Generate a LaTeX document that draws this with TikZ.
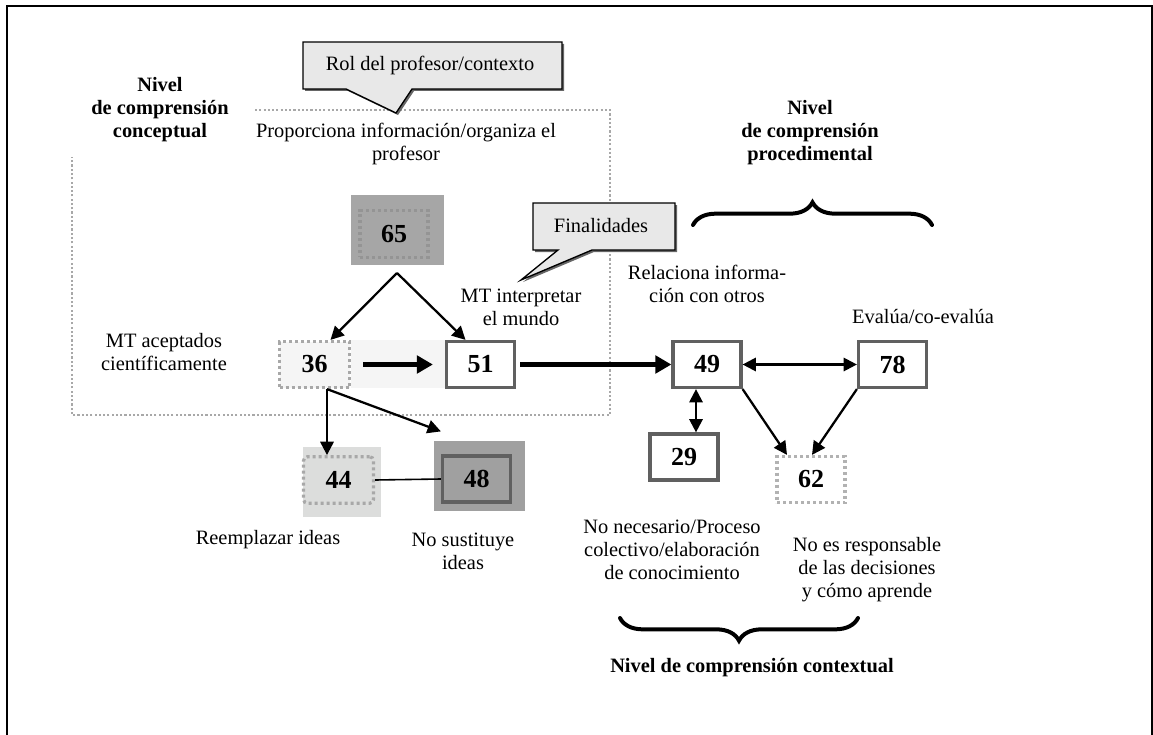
\documentclass[tikz,border=0pt]{standalone}
\usepackage{fontspec}
\setmainfont{Liberation Serif}
\usetikzlibrary{arrows.meta,decorations.pathreplacing,shadows}
\definecolor{boxline}{HTML}{606060}
\definecolor{dotline}{HTML}{A8A8A8}
\definecolor{calloutfill}{HTML}{E8E8E8}
\definecolor{fillsixtyfive}{HTML}{A6A6A6}
\definecolor{fillfortyfour}{HTML}{DCDDDC}
\definecolor{fillfortyeight}{HTML}{A0A0A0}
\definecolor{bandfill}{HTML}{F5F5F5}
\tikzset{
  every node/.style={
    font=\fontsize{15.3pt}{17.25pt}\selectfont, inner sep=0pt, align=center
  },
  level text/.style={font=\fontsize{15.3pt}{17.25pt}\selectfont\bfseries},
  num box/.style={
    draw=boxline, line width=2.4pt, fill=white,
    minimum width=51pt, minimum height=34.5pt,
    font=\fontsize{19.5pt}{20pt}\selectfont\bfseries
  },
  dot box/.style={num box, draw=dotline, dash pattern=on 2.25pt off 2.25pt},
  thin arrow/.style={line width=1.7pt, -{Triangle[length=10pt,width=10pt]}},
  both arrow/.style={line width=1.7pt, {Triangle[length=10pt,width=10pt]}-{Triangle[length=10pt,width=10pt]}},
  thick arrow/.style={line width=3.75pt, -{Triangle[length=12pt,width=13pt]}},
  callout box/.style={
    draw, line width=1pt, fill=calloutfill,
    drop shadow={shadow xshift=1.5pt, shadow yshift=-1.5pt, fill=black!60, opacity=1}
  },
  region line/.style={draw=dotline, line width=1.8pt, dash pattern=on 1.6pt off 1.6pt},
  level brace/.style={decorate, decoration={brace, amplitude=17pt}, line width=3pt, line cap=round}
}

\begin{document}
\begin{tikzpicture}[x=0.75pt, y=-0.75pt]
\useasboundingbox (0,0) rectangle (1153,735);
\draw[line width=1.1pt] (7,735) -- (7,6) -- (1152,6) -- (1152,735);
\draw[region line] (255,110) -- (610,110) -- (610,415) -- (72,415) -- (72,157);

% callouts
\path[callout box] (303,42) -- (562,42) -- (562,89) -- (412,89) -- (396,113) -- (346,89) -- (303,89) -- cycle;
\node (rol) at (430,65) {Rol del profesor/contexto};
\path[callout box] (533,203) -- (675,203) -- (675,250) -- (592,250) -- (521,280) -- (558,250) -- (533,250) -- cycle;
\node (finalidades) at (601,226) {Finalidades};

% backgrounds
\fill[bandfill] (351,340) rectangle (445,388);
\fill[fillsixtyfive] (351,195) rectangle (444,265);
\fill[fillfortyfour] (303,447) rectangle (381,517);
\fill[fillfortyeight] (434,441) rectangle (525,511);

\node[dot box, draw=black!42, fill=fillsixtyfive, minimum height=35pt] (n65) at (394,234) {65};
\node[dot box, fill=bandfill, minimum width=52.5pt, minimum height=34.5pt] (n36) at (314.5,364.5) {36};
\node[num box] (n51) at (480.5,364.5) {51};
\node[num box] (n49) at (707,364.5) {49};
\node[num box] (n78) at (892.5,364.5) {78};
\node[num box] (n29) at (684,457) {29};
\node[dot box, draw=black!30] (n62) at (811,479.5) {62};
\node[dot box, fill=fillfortyfour, rounded corners=3pt, minimum width=52.5pt, minimum height=35pt] (n44) at (338.5,480) {44};
\node[num box, fill=fillfortyeight] (n48) at (476.5,479) {48};

\coordinate (split65) at (397,273);
\draw[thin arrow] (split65) -- ([shift={(16,0)}]n36.north);
\draw[thin arrow] (split65) -- ([shift={(-15,0)}]n51.north);
\draw[thick arrow, shorten <=9pt, shorten >=9pt] (n36) -- (n51);
\draw[thick arrow, shorten <=3pt] (n51) -- (n49);
\draw[both arrow] (n49) -- (n78);
\draw[both arrow] ([shift={(-11,0)}]n49.south) -- ([shift={(12,0)}]n29.north);
\draw[thin arrow] (n49.south east) -- ([shift={(-24,0)}]n62.north);
\draw[thin arrow] (n78.south west) -- ([shift={(1,0)}]n62.north);
\coordinate (split36) at ([shift={(12.5,0)}]n36.south);
\draw[thin arrow] (split36) -- (split36 |- n44.north);
\draw[thin arrow] (split36) -- ([shift={(0,-23)}]n48.north west);
\draw[line width=1.2pt] (n44.east) -- (n48.west);

% labels
\node[level text] (conceptual) at (160,110) {Nivel\\de comprensión\\conceptual};
\node (proporciona) at (406,144) {Proporciona información/organiza el\\profesor};
\node (aceptados) at (164,352) {MT aceptados\\científicamente};
\node (interpretar) at (521,307) {MT interpretar\\el mundo};
\node (relaciona) at (707,284) {Relaciona informa-\\ción con otros};
\node (evalua) at (923,317) {Evalúa/co-evalúa};
\node[level text] (procedimental) at (810,133) {Nivel\\de comprensión\\procedimental};
\node (reemplazar) at (268,540) {Reemplazar ideas};
\node (sustituye) at (463,551) {No sustituye\\ideas};
\node (necesario) at (672,550) {No necesario/Proceso\\colectivo/elaboración\\de conocimiento};
\node (responsable) at (867,570) {No es responsable\\de las decisiones\\y cómo aprende};
\node[level text] (contextual) at (752,668) {Nivel de comprensión contextual};

\draw[level brace] (693,225) -- (932,225);
\draw[level brace] (858,618) -- (620,618);
\end{tikzpicture}
\end{document}
